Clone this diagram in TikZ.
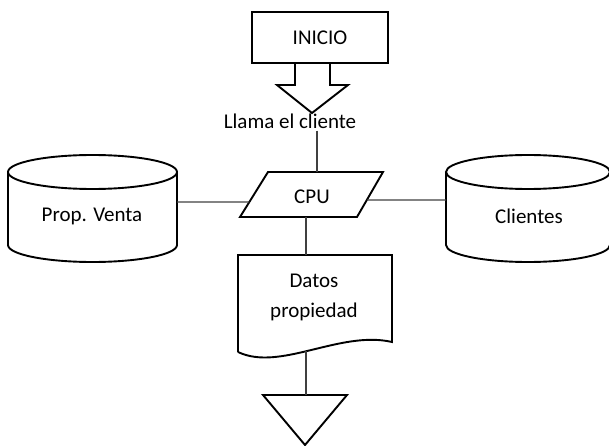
\documentclass[tikz,border=0pt]{standalone}
\usepackage{fontspec}
\setmainfont{Carlito}
\usetikzlibrary{calc}
\begin{document}
\begin{tikzpicture}[x=1pt,y=-1pt,
  shapeline/.style={draw=black,line width=1.9pt,line join=miter},
  link/.style={draw=black!75,line width=1.1pt},
  label/.style={font=\fontsize{21}{30}\selectfont,inner sep=2pt,align=center}]
\useasboundingbox (0,0) rectangle (609,446);

% start box and its block arrow
\node[shapeline,minimum width=136pt,minimum height=51pt,inner sep=0pt,
      font=\fontsize{21}{30}\selectfont] (inicio) at (320,37.5) {INICIO};
\draw[shapeline] (295,63) -- (295,85) -- (277,85) -- (312,113) -- (348,85) -- (330,85) -- (330,63);
\node[label] (llama) at (290,121) {Llama el cliente};

% CPU parallelogram
\coordinate (cpuTL) at (268,172);
\coordinate (cpuTR) at (383,172);
\coordinate (cpuBR) at (357,217);
\coordinate (cpuBL) at (240,217);
\draw[shapeline] (cpuTL) -- (cpuTR) -- (cpuBR) -- (cpuBL) -- cycle;
\node[label] (cpu) at (312,197) {CPU};

% data stores
\draw[shapeline] (8,172) -- (8,245) arc[start angle=180,end angle=0,x radius=84.5,y radius=17] -- (177,172);
\draw[shapeline] (92.5,172) ellipse [x radius=84.5,y radius=17];
\node[label] (pv) at (92,216) {Prop. Venta};

\draw[shapeline] (446,172) -- (446,245) arc[start angle=180,end angle=0,x radius=82,y radius=17] -- (610,172);
\draw[shapeline] (528,172) ellipse [x radius=82,y radius=17];
\node[label] (cl) at (529,216) {Clientes};

% document
\draw[shapeline] (238,352) -- (238,255) -- (392,255) -- (392,342)
  .. controls (340,330) and (280,372) .. (238,352);
\node[label] (datos) at (314,297) {Datos\\propiedad};

% off-page triangle
\draw[shapeline] (263,395) -- (347,395) -- (305,445) -- cycle;

% connection points
\coordinate (cpuTop) at (317,172);
\coordinate (cpuBot) at (306,217);
\coordinate (docTop) at (306,255);
\coordinate (docBot) at (306,351);
\coordinate (endTop) at (306,395);
\coordinate (pvPort) at (177,202);
\coordinate (clPort) at (446,200);
\coordinate (cpuLeft) at ($(cpuBL)!0.333!(cpuTL)$);
\coordinate (cpuRight) at ($(cpuBR)!0.378!(cpuTR)$);

% connectors
\draw[link] (llama.south -| cpuTop) -- (cpuTop);
\draw[link] (cpuBot) -- (docTop);
\draw[link] (docBot) -- (endTop);
\draw[link] (pvPort) -- (cpuLeft);
\draw[link] (cpuRight) -- (clPort);
\end{tikzpicture}
\end{document}
